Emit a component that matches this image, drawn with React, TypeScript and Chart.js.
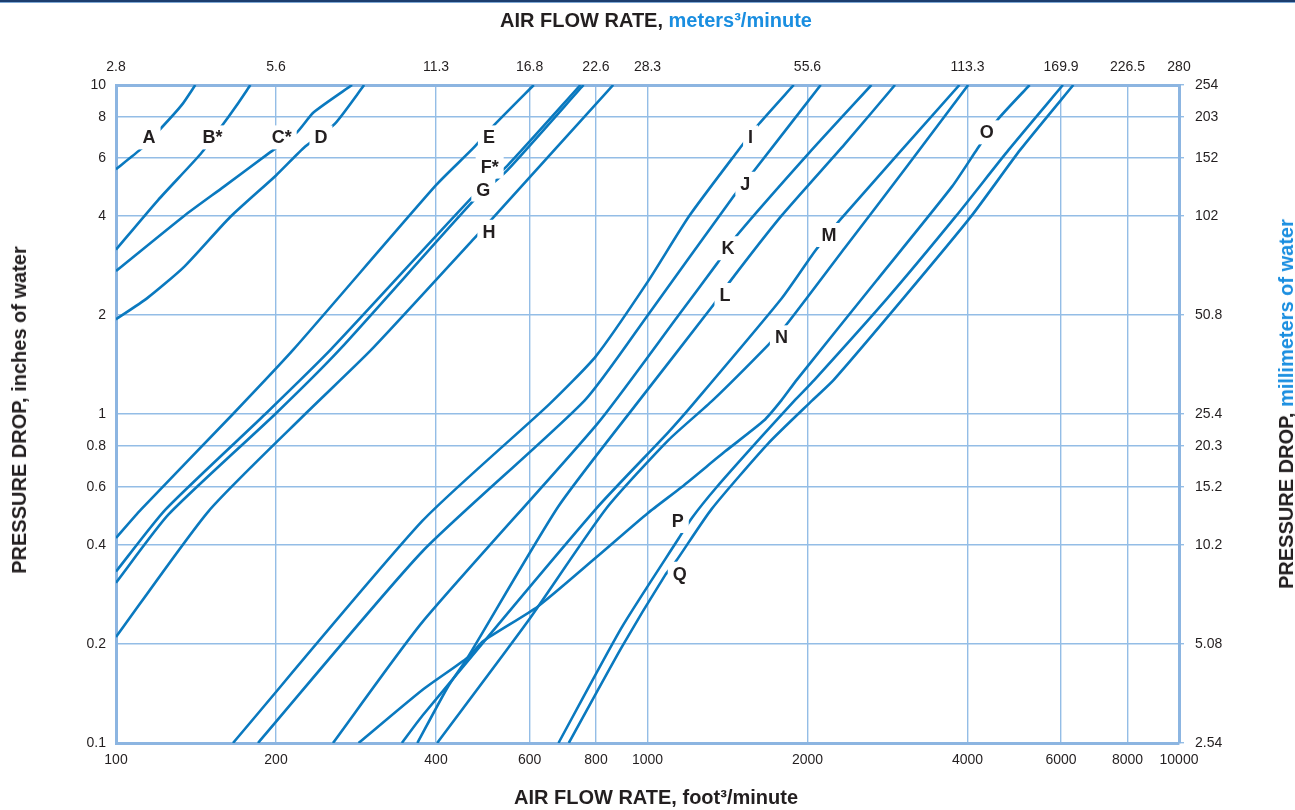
import React, { useEffect, useRef } from 'react';
import { Chart, registerables } from 'chart.js';

Chart.register(...registerables);

// Axis ticks
const xTicks = [100, 200, 400, 600, 800, 1000, 2000, 4000, 6000, 8000, 10000];
const xTopLabels = ['2.8', '5.6', '11.3', '16.8', '22.6', '28.3', '55.6', '113.3', '169.9', '226.5', '280'];
const yTicks = [0.1, 0.2, 0.4, 0.6, 0.8, 1, 2, 4, 6, 8, 10];
const yLeftLabels = ['0.1', '0.2', '0.4', '0.6', '0.8', '1', '2', '4', '6', '8', '10'];
const yRightLabels = ['2.54', '5.08', '10.2', '15.2', '20.3', '25.4', '50.8', '102', '152', '203', '254'];

// Curves: [air flow ft3/min, pressure drop in. water]
const curveA = [[100, 5.55], [111, 6.36], [122, 7.44], [133, 8.7], [141, 10]];
const curveB = [[100, 3.16], [120, 4.47], [144.4, 6.18], [158.5, 7.54], [168.3, 8.63], [179, 10]];
const curveC = [[100, 2.72], [134.3, 4.0], [159.6, 4.91], [194.3, 6.22], [219, 7.18], [235.5, 8.26], [278, 10]];
const curveD = [[100, 1.94], [114.5, 2.25], [134.3, 2.8], [164, 3.97], [200, 5.31], [227, 6.5], [258, 7.62], [293, 10]];
const curveE = [[100, 0.42], [111.5, 0.513], [166, 1.0], [216, 1.574], [400, 4.96], [471, 6.45], [514, 7.54], [611, 10]];
const curveF = [[100, 0.332], [124, 0.513], [191, 1.0], [254, 1.574], [473, 4.64], [544, 5.67], [748, 10]];
const curveG = [[100, 0.307], [125.7, 0.496], [199.4, 1.0], [264, 1.574], [473, 4.49], [544, 5.49], [758, 10]];
const curveH = [[100, 0.21], [149.4, 0.507], [227, 1.0], [303, 1.574], [473, 3.43], [510, 3.92], [862, 10]];
const curveI = [[166, 0.1], [377, 0.473], [653, 1.07], [800, 1.5], [1002, 2.53], [1197, 3.99], [1475, 6.27], [1620, 7.61], [1884, 10]];
const curveJ = [[185, 0.1], [377, 0.382], [762, 1.1], [1002, 2.0], [1443, 4.53], [1584, 5.47], [2118, 10]];
const curveK = [[256, 0.1], [377, 0.233], [806, 0.937], [1145, 2.0], [1350, 2.86], [1475, 3.5], [2014, 6.22], [2638, 10]];
const curveL = [[369, 0.1], [421, 0.148], [459, 0.182], [680, 0.524], [965, 1.1], [1320, 2.11], [1430, 2.53], [1786, 4.0], [2348, 6.6], [2922, 10]];
const curveM = [[345, 0.1], [377, 0.121], [800, 0.515], [1095, 0.881], [1235, 1.1], [1786, 2.24], [2070, 3.14], [2305, 3.9], [3863, 10]];
const curveN = [[402, 0.1], [595, 0.234], [837, 0.517], [1095, 0.833], [1326, 1.1], [1686, 1.62], [1826, 1.87], [2348, 3.19], [3076, 5.65], [4012, 10]];
const curveO = [[286, 0.1], [377, 0.145], [459, 0.182], [491, 0.204], [622, 0.26], [800, 0.366], [1002, 0.5], [1160, 0.6], [1400, 0.77], [1656, 0.955], [1786, 1.1], [1909, 1.27], [2700, 2.55], [3740, 4.91], [4175, 6.4], [4552, 7.83], [5236, 10]];
const curveP = [[680, 0.1], [895, 0.225], [1145, 0.419], [1213, 0.484], [1350, 0.6], [1634, 0.849], [1892, 1.1], [2061, 1.27], [2828, 2.25], [3808, 4.0], [4784, 6.36], [6048, 10]];
const curveQ = [[711, 0.1], [895, 0.196], [1081, 0.325], [1130, 0.356], [1320, 0.514], [1686, 0.813], [2042, 1.1], [2241, 1.27], [3031, 2.25], [4070, 4.0], [5030, 6.36], [6327, 10]];

const curves = [curveA, curveB, curveC, curveD, curveE, curveF, curveG, curveH, curveI, curveJ, curveK, curveL, curveM, curveN, curveO, curveP, curveQ];

// Curve labels
const labelNames = ['A', 'B*', 'C*', 'D', 'E', 'F*', 'G', 'H', 'I', 'J', 'K', 'L', 'M', 'N', 'O', 'P', 'Q'];
const labelX = [115.4, 151.9, 205, 243, 503, 504.7, 491, 503, 1563, 1528, 1417, 1399, 2196, 1786, 4348, 1140, 1150];
const labelY = [6.93, 6.93, 6.93, 6.93, 6.93, 5.65, 4.81, 3.58, 6.93, 5.01, 3.19, 2.3, 3.5, 1.71, 7.18, 0.473, 0.327];

const FONT = '"Liberation Sans", Arial, Helvetica, sans-serif';
const LINE_COLOR = '#0a79bf';
const GRID_COLOR = '#94bde6';
const BORDER_COLOR = '#8cb5e1';
const TEXT_COLOR = '#231f20';
const BLUE_TEXT = '#1a8ee0';

const curveLabelPlugin = {
  id: 'curveLabels',
  afterDatasetsDraw(chart: any) {
    const { ctx, scales } = chart;
    const xs = scales.x;
    const ys = scales.y;
    ctx.save();
    ctx.font = `bold 18px ${FONT}`;
    ctx.textAlign = 'center';
    ctx.textBaseline = 'middle';
    labelNames.forEach((name, i) => {
      const px = xs.getPixelForValue(labelX[i]);
      const py = ys.getPixelForValue(labelY[i]);
      const w = ctx.measureText(name).width + 10;
      const h = 24;
      ctx.fillStyle = '#ffffff';
      ctx.fillRect(px - w / 2, py - h / 2, w, h);
      ctx.fillStyle = TEXT_COLOR;
      ctx.fillText(name, px, py + 1);
    });
    ctx.restore();
  },
};

export default function App() {
  const canvasRef = useRef<HTMLCanvasElement | null>(null);

  useEffect(() => {
    if (!canvasRef.current) return;
    const tickFont = { family: FONT, size: 14 };
    const setX = (s: any) => {
      s.ticks = xTicks.map((v) => ({ value: v }));
    };
    const setY = (s: any) => {
      s.ticks = yTicks.map((v) => ({ value: v }));
    };
    const chart = new Chart(canvasRef.current, {
      type: 'line',
      data: {
        datasets: curves.map((c, i) => ({
          label: labelNames[i],
          data: c.map(([x, y]) => ({ x, y })),
          borderColor: LINE_COLOR,
          borderWidth: 2.6,
          pointRadius: 0,
          fill: false,
          tension: 0.2,
          xAxisID: 'x',
          yAxisID: 'y',
        })),
      },
      options: {
        animation: false,
        responsive: false,
        maintainAspectRatio: false,
        layout: { padding: 0 },
        plugins: {
          legend: { display: false },
          tooltip: { enabled: false },
          title: { display: false },
        },
        scales: {
          x: {
            type: 'logarithmic',
            position: 'bottom',
            min: 100,
            max: 10000,
            afterBuildTicks: setX,
            afterFit: (s: any) => {
              s.height = 67;
            },
            ticks: {
              autoSkip: false,
              maxRotation: 0,
              padding: 9,
              color: TEXT_COLOR,
              font: tickFont,
              callback: (v: any) => String(v),
            },
            grid: { color: GRID_COLOR, lineWidth: 1.4, drawTicks: false },
            border: { display: true, color: BORDER_COLOR, width: 3 },
          },
          xTop: {
            type: 'logarithmic',
            position: 'top',
            min: 100,
            max: 10000,
            afterBuildTicks: setX,
            afterFit: (s: any) => {
              s.height = 85;
            },
            ticks: {
              autoSkip: false,
              maxRotation: 0,
              padding: 9,
              color: TEXT_COLOR,
              font: tickFont,
              callback: (_v: any, i: number) => xTopLabels[i],
            },
            grid: { display: false, drawTicks: false },
            border: { display: true, color: BORDER_COLOR, width: 3 },
          },
          y: {
            type: 'logarithmic',
            position: 'left',
            min: 0.1,
            max: 10,
            afterBuildTicks: setY,
            afterFit: (s: any) => {
              s.width = 116;
            },
            ticks: {
              autoSkip: false,
              padding: 10,
              color: TEXT_COLOR,
              font: tickFont,
              callback: (_v: any, i: number) => yLeftLabels[i],
            },
            grid: { color: GRID_COLOR, lineWidth: 1.4, drawTicks: false },
            border: { display: true, color: BORDER_COLOR, width: 3 },
          },
          yRight: {
            type: 'logarithmic',
            position: 'right',
            min: 0.1,
            max: 10,
            afterBuildTicks: setY,
            afterFit: (s: any) => {
              s.width = 116;
            },
            ticks: {
              autoSkip: false,
              padding: 11,
              color: TEXT_COLOR,
              font: tickFont,
              callback: (_v: any, i: number) => yRightLabels[i],
            },
            grid: { drawOnChartArea: false, drawTicks: true, tickLength: 5, color: GRID_COLOR, lineWidth: 1.4 },
            border: { display: true, color: BORDER_COLOR, width: 3 },
          },
        },
      } as any,
      plugins: [curveLabelPlugin],
    });
    return () => chart.destroy();
  }, []);

  const titleStyle: React.CSSProperties = {
    position: 'absolute',
    fontFamily: FONT,
    fontWeight: 700,
    fontSize: 20,
    color: TEXT_COLOR,
    whiteSpace: 'nowrap',
    lineHeight: '22px',
  };

  return (
    <div style={{ position: 'fixed', left: 0, top: 0, width: 1295, height: 810, background: '#fff', overflow: 'hidden' }}>
      <div style={{ position: 'absolute', left: 0, top: 0, width: 1295, height: 2, background: '#1c3d6e' }} />
      <div style={{ position: 'absolute', left: 0, top: 2, width: 1295, height: 1, background: '#7fa9d6' }} />
      <canvas ref={canvasRef} width={1295} height={810} style={{ position: 'absolute', left: 0, top: 0, width: 1295, height: 810 }} />
      <div style={{ ...titleStyle, left: 656, top: 9, transform: 'translateX(-50%)' }}>
        AIR FLOW RATE, <span style={{ color: BLUE_TEXT }}>meters³/minute</span>
      </div>
      <div style={{ ...titleStyle, left: 656, top: 786, transform: 'translateX(-50%)' }}>
        AIR FLOW RATE, foot³/minute
      </div>
      <div style={{ ...titleStyle, left: 19, top: 410, transform: 'translate(-50%, -50%) rotate(-90deg)' }}>
        PRESSURE DROP, inches of water
      </div>
      <div style={{ ...titleStyle, left: 1286, top: 404, transform: 'translate(-50%, -50%) rotate(-90deg)' }}>
        PRESSURE DROP, <span style={{ color: BLUE_TEXT }}>millimeters of water</span>
      </div>
    </div>
  );
}
